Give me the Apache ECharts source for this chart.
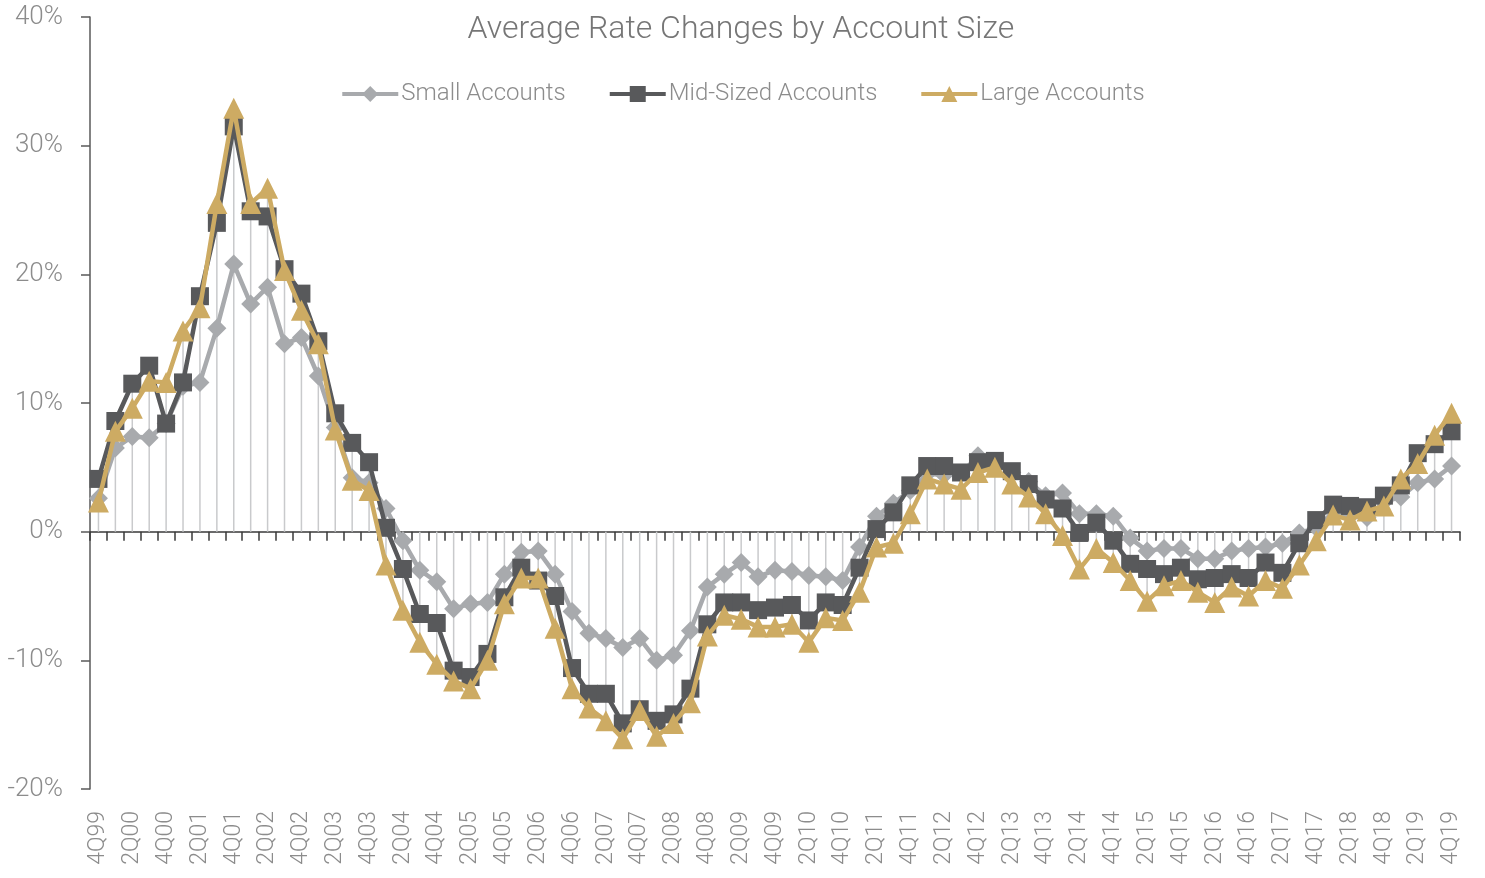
<!DOCTYPE html>
<html>
<head>
<meta charset="utf-8">
<script src="https://cdn.jsdelivr.net/npm/echarts@6/dist/echarts.min.js"></script>
<style>
  html, body { margin: 0; padding: 0; background: #fff; }
  #chart { width: 1485px; height: 878px; }
</style>
</head>
<body>
<div id="chart"></div>
<script>
const quarters = [
  '4Q99',
  '1Q00', '2Q00', '3Q00', '4Q00', '1Q01', '2Q01', '3Q01', '4Q01',
  '1Q02', '2Q02', '3Q02', '4Q02', '1Q03', '2Q03', '3Q03', '4Q03',
  '1Q04', '2Q04', '3Q04', '4Q04', '1Q05', '2Q05', '3Q05', '4Q05',
  '1Q06', '2Q06', '3Q06', '4Q06', '1Q07', '2Q07', '3Q07', '4Q07',
  '1Q08', '2Q08', '3Q08', '4Q08', '1Q09', '2Q09', '3Q09', '4Q09',
  '1Q10', '2Q10', '3Q10', '4Q10', '1Q11', '2Q11', '3Q11', '4Q11',
  '1Q12', '2Q12', '3Q12', '4Q12', '1Q13', '2Q13', '3Q13', '4Q13',
  '1Q14', '2Q14', '3Q14', '4Q14', '1Q15', '2Q15', '3Q15', '4Q15',
  '1Q16', '2Q16', '3Q16', '4Q16', '1Q17', '2Q17', '3Q17', '4Q17',
  '1Q18', '2Q18', '3Q18', '4Q18', '1Q19', '2Q19', '3Q19', '4Q19'
];

// percent changes per quarter
const smallAccounts = [
  2.6, 6.5, 7.4, 7.3, 8.4, 11.3, 11.6, 15.8, 20.8, 17.7,
  19.0, 14.6, 15.1, 12.1, 8.1, 4.2, 3.8, 1.8, -0.7, -3.0,
  -3.9, -6.0, -5.6, -5.5, -3.3, -1.6, -1.5, -3.3, -6.2, -7.9,
  -8.3, -9.0, -8.3, -10.0, -9.6, -7.7, -4.3, -3.3, -2.4, -3.5,
  -3.0, -3.1, -3.4, -3.5, -3.8, -1.2, 1.2, 2.2, 3.2, 4.5,
  4.4, 4.5, 5.9, 5.3, 4.6, 3.9, 2.8, 3.0, 1.4, 1.4,
  1.2, -0.5, -1.5, -1.3, -1.3, -2.1, -2.1, -1.5, -1.3, -1.2,
  -0.9, -0.1, 0.3, 1.5, 1.2, 1.1, 2.3, 2.7, 3.8, 4.1,
  5.1
];
const midAccounts = [
  4.1, 8.6, 11.5, 12.9, 8.4, 11.6, 18.3, 24.0, 31.5, 24.9,
  24.5, 20.4, 18.5, 14.8, 9.2, 6.9, 5.4, 0.3, -2.9, -6.4,
  -7.1, -10.8, -11.3, -9.5, -5.1, -2.8, -3.8, -5.0, -10.6, -12.6,
  -12.6, -14.9, -13.8, -14.7, -14.2, -12.2, -7.2, -5.5, -5.5, -6.1,
  -5.9, -5.7, -6.9, -5.5, -5.7, -2.8, 0.2, 1.5, 3.6, 5.1,
  5.1, 4.6, 5.4, 5.5, 4.7, 3.7, 2.5, 1.8, -0.1, 0.7,
  -0.7, -2.5, -2.9, -3.3, -2.8, -3.7, -3.6, -3.3, -3.6, -2.4,
  -3.2, -0.9, 0.9, 2.1, 2.0, 1.9, 2.8, 3.6, 6.1, 6.8,
  7.8
];
const largeAccounts = [
  2.3, 7.8, 9.6, 11.7, 11.6, 15.6, 17.4, 25.5, 32.9, 25.5,
  26.7, 20.3, 17.2, 14.6, 7.9, 4.0, 3.2, -2.6, -6.1, -8.6,
  -10.3, -11.6, -12.2, -10.0, -5.6, -3.6, -3.6, -7.5, -12.2, -13.7,
  -14.7, -16.1, -13.9, -15.9, -14.9, -13.3, -8.1, -6.5, -6.8, -7.4,
  -7.4, -7.2, -8.6, -6.7, -6.9, -4.7, -1.2, -0.9, 1.4, 4.1,
  3.7, 3.3, 4.6, 5.0, 3.7, 2.7, 1.4, -0.3, -2.9, -1.3,
  -2.4, -3.8, -5.4, -4.2, -3.8, -4.7, -5.5, -4.3, -5.0, -3.8,
  -4.4, -2.6, -0.7, 1.3, 0.9, 1.6, 2.0, 4.1, 5.3, 7.5,
  9.2
];

const yTicks = [-20, -10, 0, 10, 20, 30, 40];

const FONT = 'Roboto';
const LABEL_GRAY = '#8c8c8c';

// drop lines: from the axis to the furthest point of any series
const dropLines = quarters.map((q, i) => {
  const vals = [smallAccounts[i], midAccounts[i], largeAccounts[i]];
  return [i, Math.min(0, ...vals), Math.max(0, ...vals)];
});

const chart = echarts.init(document.getElementById('chart'));

chart.setOption({
  animation: false,
  backgroundColor: '#fff',
  title: {
    text: 'Average Rate Changes by Account Size',
    left: 736,
    top: 9,
    textAlign: 'center',
    textStyle: {
      fontFamily: FONT,
      fontWeight: 300,
      fontSize: 32,
      color: '#767676'
    }
  },
  legend: {
    top: 77,
    left: 'center',
    itemWidth: 56,
    itemHeight: 20,
    itemGap: 42,
    lineStyle: {width: 4},
    textStyle: {fontFamily: FONT, fontWeight: 300, fontSize: 24, color: LABEL_GRAY, padding: [0, 0, 0, -2]},
    data: ['Small Accounts', 'Mid-Sized Accounts', 'Large Accounts']
  },
  grid: {left: 90, right: 25, top: 17, bottom: 89},
  xAxis: [
    {
      type: 'category',
      data: quarters,
      boundaryGap: true,
      axisLine: {onZero: true, lineStyle: {color: '#3a3a3a', width: 1.5}},
      axisTick: {show: true, interval: 0, length: 9, lineStyle: {color: '#3a3a3a', width: 1.5}},
      axisLabel: {show: false},
      splitLine: {show: false}
    },
    {
      type: 'category',
      data: quarters,
      position: 'bottom',
      boundaryGap: true,
      axisLine: {show: false, onZero: false},
      axisTick: {show: false},
      axisLabel: {
        interval: 1,
        rotate: 90,
        margin: 22,
        fontFamily: FONT,
        fontWeight: 300,
        fontSize: 23,
        color: LABEL_GRAY
      },
      splitLine: {show: false}
    }
  ],
  yAxis: {
    type: 'value',
    min: yTicks[0],
    max: yTicks[yTicks.length - 1],
    interval: 10,
    axisLine: {show: true, lineStyle: {color: '#5a5a5a', width: 1.5}},
    axisTick: {show: true, length: 9, lineStyle: {color: '#5a5a5a', width: 1.5}},
    axisLabel: {
      formatter: '{value}%',
      margin: 27,
      fontFamily: FONT,
      fontWeight: 300,
      fontSize: 26,
      color: LABEL_GRAY
    },
    splitLine: {show: false}
  },
  series: [
    {
      name: 'drop',
      type: 'custom',
      silent: true,
      z: 1,
      data: dropLines,
      encode: {x: 0, y: [1, 2]},
      renderItem: (params, api) => {
        const p1 = api.coord([api.value(0), api.value(1)]);
        const p2 = api.coord([api.value(0), api.value(2)]);
        return {
          type: 'line',
          shape: {x1: p1[0], y1: p1[1], x2: p2[0], y2: p2[1]},
          style: {stroke: '#c9cacc', lineWidth: 1.5}
        };
      }
    },
    {
      name: 'Small Accounts',
      type: 'line',
      data: smallAccounts,
      z: 3,
      color: '#a8aaad',
      symbol: 'diamond',
      symbolSize: 19,
      showAllSymbol: true,
      lineStyle: {width: 4.5},
      itemStyle: {color: '#a8aaad'}
    },
    {
      name: 'Mid-Sized Accounts',
      type: 'line',
      data: midAccounts,
      z: 4,
      color: '#58595b',
      symbol: 'rect',
      symbolSize: 18,
      showAllSymbol: true,
      lineStyle: {width: 4.5},
      itemStyle: {color: '#58595b'}
    },
    {
      name: 'Large Accounts',
      type: 'line',
      data: largeAccounts,
      z: 5,
      color: '#cdab63',
      symbol: 'triangle',
      symbolSize: 21,
      showAllSymbol: true,
      lineStyle: {width: 4.5},
      itemStyle: {color: '#cdab63'}
    }
  ]
});
</script>
</body>
</html>
